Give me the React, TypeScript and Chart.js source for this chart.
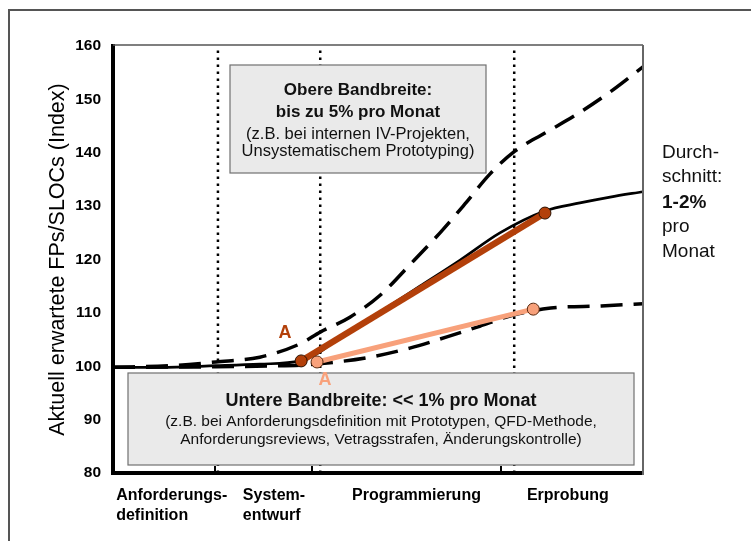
import React, { useEffect, useRef } from "react";
import { Chart, registerables } from "chart.js";

Chart.register(...registerables);

// ---- data ----
const yTicks = [80, 90, 100, 110, 120, 130, 140, 150, 160];
const phaseLabels = [["Anforderungs-", "definition"], ["System-", "entwurf"], ["Programmierung"], ["Erprobung"]];
const phaseLabelX = [0.6, 24.5, 45.1, 78.1];
const phaseBoundaryX = [19.8, 39.1, 75.7];
const phaseTickX = [19.3, 37.6, 73.2];

const averageX = [0, 8.9, 19.4, 27.7, 35.3, 39.1, 42.8, 50.4, 57.9, 65.5, 73.0, 81.5, 88.1, 93.8, 100];
const averageY = [99.8, 99.8, 100.1, 100.4, 101.0, 102.7, 105.5, 110.2, 115.0, 119.9, 125.0, 129.1, 130.6, 131.7, 132.7];

const upperX = [0, 10.8, 19.4, 27.7, 35.3, 39.1, 44.7, 50.4, 56.0, 61.7, 66.4, 71.1, 75.7, 81.5, 87.2, 93.8, 100];
const upperY = [99.8, 100.1, 100.8, 101.7, 104.2, 106.4, 109.2, 113.3, 119.0, 125.0, 130.4, 136.0, 140.2, 143.7, 147.0, 151.4, 156.1];

const lowerX = [0, 19.4, 29.6, 35.3, 40.4, 48.5, 56.0, 63.0, 69.2, 74.9, 82.6, 92.1, 100];
const lowerY = [99.8, 99.9, 100.05, 100.2, 100.6, 101.7, 103.4, 105.5, 107.5, 109.4, 110.9, 111.3, 111.7];

const darkX = [35.5, 81.5];
const darkY = [101.0, 128.7];
const lightX = [38.5, 79.3];
const lightY = [100.8, 110.7];

const markerLabels = ["A", "A"];
const markerLabelX = [32.45, 40.0];
const markerLabelY = [106.2, 97.4];

const upperBoxLines = ["Obere Bandbreite:", "bis zu 5% pro Monat", "(z.B. bei internen IV-Projekten,", "Unsystematischem Prototyping)"];
const lowerBoxLines = [
  "Untere Bandbreite: << 1% pro Monat",
  "(z.B. bei Anforderungsdefinition mit Prototypen, QFD-Methode,",
  "Anforderungsreviews, Vetragsstrafen, Änderungskontrolle)",
];
const sideLines = ["Durch-", "schnitt:", "1-2%", "pro", "Monat"];
const yTitle = "Aktuell erwartete FPs/SLOCs (Index)";

const FONT = "'Liberation Sans', Arial, Helvetica, sans-serif";
const DARK = "#B3400A";
const LIGHT = "#F8A17B";

const pts = (xs: number[], ys: number[]) => xs.map((x, i) => ({ x, y: ys[i] }));

export default function App() {
  const ref = useRef<HTMLCanvasElement>(null);

  useEffect(() => {
    const canvas = ref.current!;

    const decor = {
      id: "decor",
      afterDraw(chart: any) {
        const ctx = chart.ctx as CanvasRenderingContext2D;
        const { left, right, top, bottom } = chart.chartArea;
        const xs = chart.scales.x;
        const ys = chart.scales.y;
        ctx.save();

        // outer frame
        ctx.strokeStyle = "#555";
        ctx.lineWidth = 2;
        ctx.beginPath();
        ctx.moveTo(9, 541);
        ctx.lineTo(9, 10);
        ctx.lineTo(751, 10);
        ctx.stroke();

        // top & right plot border
        ctx.strokeStyle = "#555";
        ctx.lineWidth = 1.5;
        ctx.beginPath();
        ctx.moveTo(left, top - 1);
        ctx.lineTo(right, top - 1);
        ctx.stroke();
        ctx.strokeStyle = "#666";
        ctx.lineWidth = 2;
        ctx.beginPath();
        ctx.moveTo(right, top - 1);
        ctx.lineTo(right, bottom + 2);
        ctx.stroke();

        // phase tick marks on bottom axis
        ctx.strokeStyle = "#000";
        ctx.lineWidth = 2;
        phaseTickX.forEach((v) => {
          const px = Math.round(xs.getPixelForValue(v));
          ctx.beginPath();
          ctx.moveTo(px, bottom);
          ctx.lineTo(px, bottom - 7);
          ctx.stroke();
        });

        const drawBox = (x: number, y: number, w: number, h: number, lines: string[], fonts: string[], ysPos: number[]) => {
          ctx.fillStyle = "#EAEAEA";
          ctx.fillRect(x, y, w, h);
          ctx.strokeStyle = "#707070";
          ctx.lineWidth = 1.2;
          ctx.strokeRect(x, y, w, h);
          ctx.fillStyle = "#111";
          ctx.textAlign = "center";
          ctx.textBaseline = "middle";
          lines.forEach((t, i) => {
            ctx.font = fonts[i];
            ctx.fillText(t, x + w / 2, ysPos[i]);
          });
        };

        drawBox(230, 65, 256, 108, upperBoxLines,
          [`bold 17px ${FONT}`, `bold 17px ${FONT}`, `16.5px ${FONT}`, `16.5px ${FONT}`],
          [90, 112, 134, 151]);
        drawBox(128, 373, 506, 92, lowerBoxLines,
          [`bold 18px ${FONT}`, `15.5px ${FONT}`, `15.5px ${FONT}`],
          [401, 422, 440]);

        // "A" markers
        ctx.font = `bold 18px ${FONT}`;
        ctx.textAlign = "center";
        ctx.textBaseline = "middle";
        markerLabels.forEach((t, i) => {
          ctx.fillStyle = i === 0 ? DARK : LIGHT;
          ctx.fillText(t, xs.getPixelForValue(markerLabelX[i]), ys.getPixelForValue(markerLabelY[i]));
        });

        // side note
        ctx.fillStyle = "#111";
        ctx.textAlign = "left";
        const sideY = [153, 177, 203, 227, 252];
        sideLines.forEach((t, i) => {
          ctx.font = i === 2 ? `bold 19px ${FONT}` : `19px ${FONT}`;
          ctx.fillText(t, 662, sideY[i]);
        });

        ctx.restore();
      },
    };

    const dotted = phaseBoundaryX.map((b) => ({
      data: [{ x: b, y: 80 }, { x: b, y: 160 }],
      borderColor: "#000",
      borderWidth: 2.5,
      borderDash: [2.5, 4.5],
      pointRadius: 0,
      tension: 0,
    }));

    const chart = new Chart(canvas, {
      type: "line",
      data: {
        datasets: [
          {
            data: pts(lightX, lightY),
            borderColor: LIGHT,
            borderWidth: 5,
            pointRadius: 6,
            pointBackgroundColor: LIGHT,
            pointBorderColor: "#5a2a10",
            pointBorderWidth: 1,
            tension: 0,
            clip: false,
          },
          {
            data: pts(darkX, darkY),
            borderColor: DARK,
            borderWidth: 6.5,
            pointRadius: 6,
            pointBackgroundColor: DARK,
            pointBorderColor: "#2a1000",
            pointBorderWidth: 1,
            tension: 0,
            clip: false,
          },
          {
            data: pts(averageX, averageY),
            borderColor: "#000",
            borderWidth: 2.7,
            pointRadius: 0,
            cubicInterpolationMode: "monotone",
          },
          {
            data: pts(upperX, upperY),
            borderColor: "#000",
            borderWidth: 3.5,
            borderDash: [22, 11],
            pointRadius: 0,
            cubicInterpolationMode: "monotone",
          },
          {
            data: pts(lowerX, lowerY),
            borderColor: "#000",
            borderWidth: 3.5,
            borderDash: [22, 11],
            pointRadius: 0,
            cubicInterpolationMode: "monotone",
          },
          ...dotted,
        ] as any,
      },
      options: {
        responsive: false,
        animation: false,
        layout: { padding: { top: 46, right: 108, left: 0, bottom: 0 } },
        plugins: { legend: { display: false }, tooltip: { enabled: false } },
        scales: {
          x: {
            type: "linear",
            min: 0,
            max: 100,
            grid: { display: false, drawTicks: false },
            border: { display: true, color: "#000", width: 4 },
            afterBuildTicks: (a: any) => {
              a.ticks = phaseLabelX.map((v) => ({ value: v }));
            },
            afterFit: (s: any) => {
              s.height = 68;
            },
            ticks: {
              autoSkip: false,
              maxRotation: 0,
              align: "start",
              padding: 13,
              color: "#000",
              font: { family: FONT, size: 16, weight: "bold", lineHeight: 20 / 16 },
              callback: (_v: any, i: number) => phaseLabels[i],
            },
          },
          y: {
            type: "linear",
            min: 80,
            max: 160,
            grid: { display: false, drawTicks: false },
            border: { display: true, color: "#000", width: 4 },
            afterBuildTicks: (a: any) => {
              a.ticks = yTicks.map((v) => ({ value: v }));
            },
            afterFit: (s: any) => {
              s.width = 113;
            },
            ticks: {
              padding: 12,
              color: "#000",
              font: { family: FONT, size: 15.5, weight: "bold" },
            },
            title: {
              display: true,
              text: yTitle,
              color: "#000",
              font: { family: FONT, size: 21.5 },
              padding: { top: 45, bottom: 0 },
            },
          },
        },
      } as any,
      plugins: [decor],
    });

    return () => chart.destroy();
  }, []);

  return (
    <div style={{ position: "absolute", left: 0, top: 0, width: 751, height: 541, background: "#fff" }}>
      <canvas ref={ref} width={751} height={541} style={{ display: "block", width: 751, height: 541 }} />
    </div>
  );
}
